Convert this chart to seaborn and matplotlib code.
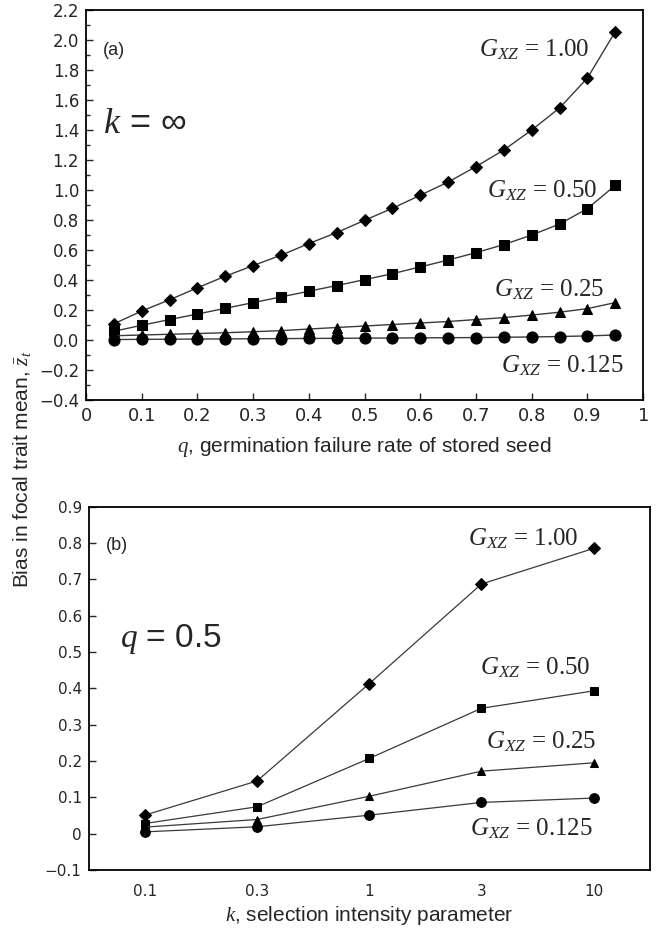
import numpy as np
import pandas as pd
import matplotlib
matplotlib.use("Agg")
import matplotlib.pyplot as plt
import seaborn as sns

# panel (a): bias vs q, k = infinity
q_vals = [0.05, 0.10, 0.15, 0.20, 0.25, 0.30, 0.35, 0.40, 0.45, 0.50,
          0.55, 0.60, 0.65, 0.70, 0.75, 0.80, 0.85, 0.90, 0.95]
a_g100 = [0.11, 0.195, 0.27, 0.35, 0.427, 0.498, 0.567, 0.645, 0.718, 0.80,
          0.88, 0.967, 1.055, 1.158, 1.269, 1.402, 1.549, 1.749, 2.058]
a_g050 = [0.06, 0.10, 0.138, 0.175, 0.213, 0.251, 0.289, 0.327, 0.365, 0.404,
          0.444, 0.489, 0.535, 0.584, 0.638, 0.702, 0.775, 0.878, 1.033]
a_g025 = [0.03, 0.035, 0.04, 0.045, 0.05, 0.057, 0.064, 0.075, 0.085, 0.095,
          0.105, 0.115, 0.125, 0.138, 0.151, 0.168, 0.187, 0.211, 0.251]
a_g0125 = [0.005, 0.006, 0.007, 0.008, 0.009, 0.010, 0.011, 0.012, 0.013, 0.014,
           0.015, 0.016, 0.017, 0.018, 0.020, 0.022, 0.025, 0.029, 0.035]

# panel (b): bias vs k, q = 0.5
k_labels = ["0.1", "0.3", "1", "3", "10"]
b_g100 = [0.051, 0.145, 0.413, 0.687, 0.785]
b_g050 = [0.028, 0.074, 0.207, 0.345, 0.393]
b_g025 = [0.018, 0.039, 0.103, 0.172, 0.195]
b_g0125 = [0.005, 0.019, 0.051, 0.086, 0.098]

g_labels = ["1.00", "0.50", "0.25", "0.125"]
markers = ["D", "s", "^", "o"]

sns.set_style("ticks")
plt.rcParams["font.family"] = ["DejaVu Sans"]
plt.rcParams["mathtext.fontset"] = "custom"
plt.rcParams["mathtext.it"] = "Liberation Serif:italic"
plt.rcParams["mathtext.rm"] = "Liberation Serif"
plt.rcParams["axes.unicode_minus"] = True

fig = plt.figure(figsize=(6.57, 9.33), dpi=100)
ax1 = fig.add_axes([0.131, 0.571, 0.848, 0.418])
ax2 = fig.add_axes([0.135, 0.0675, 0.854, 0.3895])

line_col = "#3a3a3a"
sizes_a = [6.5, 6.5, 6.5, 8]
sizes_b = [6.5, 5.5, 5.5, 7]

for ys, m, ms in zip([a_g100, a_g050, a_g025, a_g0125], markers, sizes_a):
    sns.lineplot(x=q_vals, y=ys, ax=ax1, color=line_col, linewidth=1.0,
                 marker=m, markersize=ms, markerfacecolor="black",
                 markeredgecolor="black")

for ys, m, ms in zip([b_g100, b_g050, b_g025, b_g0125], markers, sizes_b):
    sns.lineplot(x=k_labels, y=ys, ax=ax2, color=line_col, linewidth=0.9,
                 marker=m, markersize=ms, markerfacecolor="black",
                 markeredgecolor="black", sort=False)

# axes (a)
ax1.set_xlim(0, 1)
ax1.set_ylim(-0.4, 2.2)
ax1.set_xticks(np.arange(0, 1.01, 0.1))
ax1.set_xticklabels(["0", "0.1", "0.2", "0.3", "0.4", "0.5", "0.6", "0.7",
                     "0.8", "0.9", "1"], fontsize=13)
ax1.set_yticks(np.arange(-0.4, 2.21, 0.2))
ax1.set_yticklabels([f"{v:.1f}".replace("-", "\u2212") for v in np.arange(-0.4, 2.21, 0.2)],
                    fontsize=12)
ax1.set_yticks(np.arange(-0.3, 2.2, 0.2), minor=True)
ax1.tick_params(axis="both", which="major", direction="in", length=5, width=1, pad=5)
ax1.tick_params(axis="y", which="minor", direction="in", length=3, width=1)
ax1.set_xlabel("$q$, germination failure rate of stored seed",
               family="Liberation Sans", fontsize=15, labelpad=7)
ax1.set_ylabel("")

ax1.text(0.03, 0.885, "(a)", transform=ax1.transAxes, fontsize=13,
         family="Liberation Sans")
ax1.text(0.03, 0.685, "$k$ = \u221e", transform=ax1.transAxes, fontsize=26,
         family="Liberation Sans")
label_pos_a = [(0.705, 1.935), (0.72, 1.0), (0.733, 0.34), (0.745, -0.17)]
for (x, y), g in zip(label_pos_a, g_labels):
    ax1.text(x, y, "$G_{XZ}$ = " + g, fontsize=18, family="Liberation Serif",
             va="center")

# axes (b)
ax2.set_xlim(-0.5, 4.5)
ax2.set_ylim(-0.1, 0.9)
ax2.set_yticks(np.arange(-0.1, 0.91, 0.1))
ax2.set_yticklabels(["\u22120.1", "0", "0.1", "0.2", "0.3", "0.4", "0.5",
                     "0.6", "0.7", "0.8", "0.9"], fontsize=11)
ax2.set_xticks(range(len(k_labels)))
ax2.set_xticklabels(k_labels, fontsize=11)
ax2.tick_params(axis="y", direction="in", length=5, width=1, pad=5)
ax2.tick_params(axis="x", length=0, pad=10)
ax2.set_xlabel("$k$, selection intensity parameter", family="Liberation Sans",
               fontsize=15, labelpad=4)
ax2.set_ylabel("")

ax2.text(0.03, 0.88, "(b)", transform=ax2.transAxes, fontsize=13,
         family="Liberation Sans")
ax2.text(0.055, 0.615, "$q$ = 0.5", transform=ax2.transAxes, fontsize=24,
         family="Liberation Sans")
label_pos_b = [(2.88, 0.813), (2.99, 0.458), (3.04, 0.253), (2.90, 0.014)]
for (x, y), g in zip(label_pos_b, g_labels):
    ax2.text(x, y, "$G_{XZ}$ = " + g, fontsize=18, family="Liberation Serif",
             va="center")

for ax in (ax1, ax2):
    for sp in ax.spines.values():
        sp.set_visible(True)
        sp.set_linewidth(1.3)
        sp.set_color("black")

fig.text(0.033, 0.497, r"Bias in focal trait mean, $\bar{z}_t$", rotation=90,
         va="center", ha="center", fontsize=15, family="Liberation Sans")

fig.savefig("out.png", dpi=100)
